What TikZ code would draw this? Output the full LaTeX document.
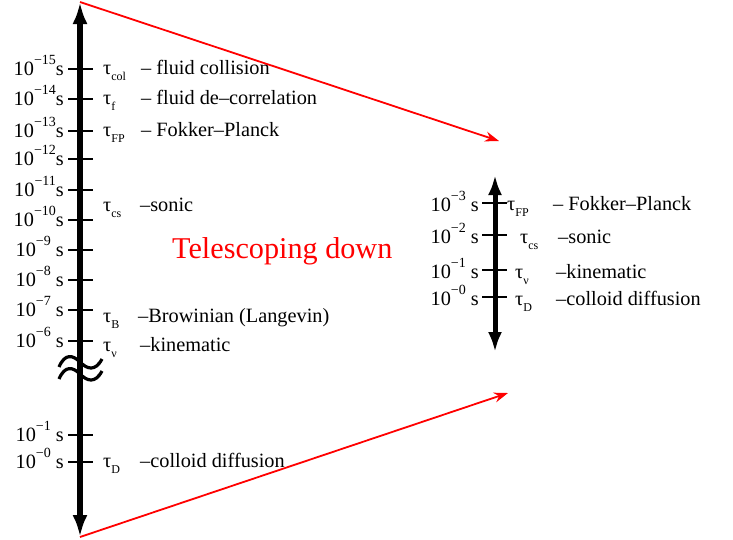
\documentclass[tikz,border=0pt]{standalone}
\usepackage{fontspec}
\setmainfont{Liberation Serif}
\usetikzlibrary{arrows.meta}
\newcommand{\tpow}[1]{10\raisebox{0.5em}{\fontsize{14}{14}\selectfont #1}}
\newcommand{\tsb}[1]{τ\raisebox{-0.3em}{\fontsize{12}{12}\selectfont #1}}

\begin{document}
\begin{tikzpicture}[x=1pt,y=-1pt,
  font=\fontsize{20.3}{23}\selectfont,
  every node/.style={inner sep=0pt},
  bigaxis/.style={line width=5.5pt,{Latex[length=22pt,width=15pt]}-{Latex[length=22pt,width=15pt]}},
  smallaxis/.style={line width=5pt,{Latex[length=20pt,width=14pt]}-{Latex[length=20pt,width=14pt]}},
  tickline/.style={line width=2.5pt},
  zoomline/.style={red,line width=1.8pt,-{Stealth[length=14pt,width=10pt]}},
  wave/.style={line width=3.2pt},
  lab/.style={anchor=base east},
  txt/.style={anchor=base west}]
  \useasboundingbox (0,0) rectangle (733,539);
  % Long time axis
  \coordinate (top) at (80,2);
  \coordinate (bot) at (80,537);
  \draw[bigaxis] (bot) -- (top);
  % Ticks and times
  \foreach \e/\y in {15/69,14/99,13/131,12/159,11/190,10/220} {
    \draw[tickline] (68,\y) -- (93,\y);
    \node[lab] (p\e) at (64,\y+6) {\tpow{−\e}s};
  }
  \foreach \e/\y in {9/250,8/280,7/310,6/341,1/435,0/462} {
    \draw[tickline] (68,\y) -- (93,\y);
    \node[lab] (p\e) at (64,\y+6) {\tpow{−\e} s};
  }
  % Break in the axis
  \draw[wave] (59,367) .. controls (65,353) and (73,355) .. (80,362)
    .. controls (87,369) and (95,372) .. (102,359);
  \draw[wave] (59,379) .. controls (65,365) and (73,367) .. (80,374)
    .. controls (87,381) and (95,384) .. (102,371);
  % Time scales
  \node[txt] (tcol) at (103,74) {\tsb{col}};
  \node[txt] (dcol) at (141,74) {– fluid collision};
  \node[txt] (tf) at (103,104) {\tsb{f}};
  \node[txt] (df) at (141,104) {– fluid de–correlation};
  \node[txt] (tfp) at (103,136) {\tsb{FP}};
  \node[txt] (dfp) at (141,136) {– Fokker–Planck};
  \node[txt] (tcs) at (103,211) {\tsb{cs}};
  \node[txt] (dcs) at (140,211) {–sonic};
  \node[txt] (tb) at (103,322) {\tsb{B}};
  \node[txt] (db) at (138,322) {–Browinian (Langevin)};
  \node[txt] (tnu) at (103,351) {\tsb{ν}};
  \node[txt] (dnu) at (140,351) {–kinematic};
  \node[txt] (td) at (103,467) {\tsb{D}};
  \node[txt] (dd) at (140,467) {–colloid diffusion};
  % Telescoping
  \coordinate (zt) at (499,141);
  \coordinate (zb) at (508,393);
  \draw[zoomline] (top) -- (zt);
  \draw[zoomline] (bot) -- (zb);
  \node[txt,red,font=\fontsize{30.2}{33}\selectfont] (tel) at (172,258) {Telescoping down};
  % Short time axis
  \coordinate (rtop) at (495,175);
  \coordinate (rbot) at (495,352);
  \draw[smallaxis] (rbot) -- (rtop);
  \foreach \e/\y in {3/203,2/235,1/270,0/297} {
    \draw[tickline] (482,\y) -- (507,\y);
    \node[lab] (q\e) at (479,\y+8) {\tpow{−\e} s};
  }
  \node[txt] (rtfp) at (507,210) {\tsb{FP}};
  \node[txt] (rdfp) at (553,210) {– Fokker–Planck};
  \node[txt] (rtcs) at (520,243) {\tsb{cs}};
  \node[txt] (rdcs) at (558,243) {–sonic};
  \node[txt] (rtnu) at (515,278) {\tsb{ν}};
  \node[txt] (rdnu) at (556,278) {–kinematic};
  \node[txt] (rtd) at (515,305) {\tsb{D}};
  \node[txt] (rdd) at (556,305) {–colloid diffusion};
\end{tikzpicture}
\end{document}
